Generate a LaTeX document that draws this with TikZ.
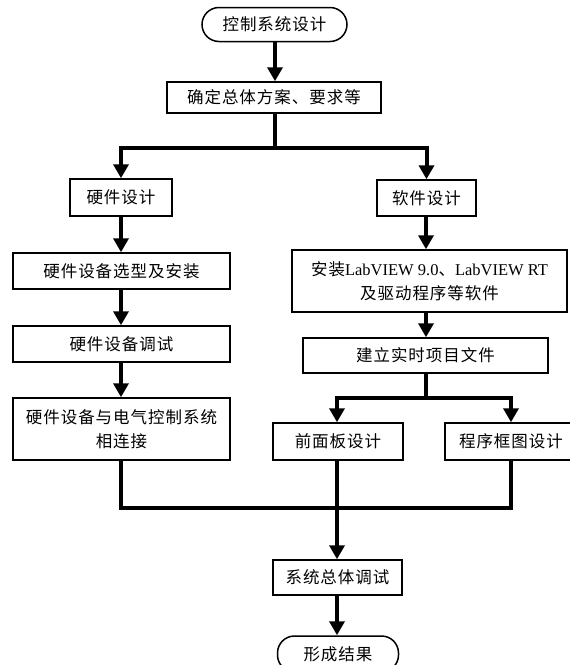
\documentclass[tikz,border=0pt]{standalone}
\usepackage{fontspec}
\setmainfont{Liberation Serif}
\newfontfamily\cjk[LetterSpace=6]{Noto Sans CJK SC}
\usetikzlibrary{arrows.meta}
\begin{document}
\begin{tikzpicture}[x=1pt,y=-1pt,
  boxstyle/.style={draw=black, line width=1.5pt, fill=white, inner sep=0pt, align=center,
    font=\cjk\fontsize{16.5}{24}\selectfont},
  termstyle/.style={boxstyle, rounded corners=17pt},
  conn/.style={line width=4pt, draw=black},
  arr/.style={conn, -{Triangle[width=15pt,length=14pt]}}
]
\useasboundingbox (0,0) rectangle (570,665);
% nodes
\node[termstyle, minimum width=145pt, minimum height=34pt] (start) at (274.5,24.5) {控制系统设计};
\node[boxstyle, minimum width=214pt, minimum height=31pt] (plan) at (274,97.5) {确定总体方案、要求等};
\node[boxstyle, minimum width=102pt, minimum height=37pt] (hw) at (121,197.5) {硬件设计};
\node[boxstyle, minimum width=99pt, minimum height=36pt] (sw) at (426.5,198) {软件设计};
\node[boxstyle, minimum width=217pt, minimum height=36pt] (hw1) at (121.5,271) {硬件设备选型及安装};
\node[boxstyle, minimum width=217pt, minimum height=36pt] (hw2) at (121.5,344) {硬件设备调试};
\node[boxstyle, minimum width=217pt, minimum height=62pt] (hw3) at (121.5,429) {硬件设备与电气控制系统\\相连接};
\node[boxstyle, minimum width=275pt, minimum height=62pt] (sw1) at (429.5,281) {安装{\rmfamily LabVIEW 9.0}、{\rmfamily LabVIEW RT}\\及驱动程序等软件};
\node[boxstyle, minimum width=245pt, minimum height=35pt] (sw2) at (425.5,355.5) {建立实时项目文件};
\node[boxstyle, minimum width=130pt, minimum height=37pt] (fp) at (338,441.5) {前面板设计};
\node[boxstyle, minimum width=132pt, minimum height=37pt] (bd) at (511,441.5) {程序框图设计};
\node[boxstyle, minimum width=129pt, minimum height=35pt] (test) at (337.5,577.5) {系统总体调试};
\node[termstyle, minimum width=121pt, minimum height=36pt] (end) at (338,654) {形成结果};
% junction coordinates
\coordinate (s1) at (275,148);
\coordinate (s2) at (426,398);
\coordinate (m) at (337,508);
% connectors
\draw[arr] (start.south -| s1) -- (plan.north -| s1);
\draw[conn] (plan.south -| s1) -- (s1);
\draw[arr] (s1) -| (hw.north);
\draw[arr] (s1) -| (sw.north);
\draw[arr] (hw.south) -- (hw1.north -| hw.south);
\draw[arr] (hw1.south -| hw.south) -- (hw2.north -| hw.south);
\draw[arr] (hw2.south -| hw.south) -- (hw3.north -| hw.south);
\draw[arr] (sw.south -| s2) -- (sw1.north -| s2);
\draw[arr] (sw1.south -| s2) -- (sw2.north -| s2);
\draw[conn] (sw2.south -| s2) -- (s2);
\draw[arr] (s2) -| (fp.north -| m);
\draw[arr] (s2) -| (bd.north);
\draw[conn] (hw3.south -| hw.south) |- (m);
\draw[conn] (bd.south) |- (m);
\draw[arr] (fp.south -| m) -- (test.north -| m);
\draw[arr] (test.south -| m) -- (end.north -| m);
\end{tikzpicture}
\end{document}
